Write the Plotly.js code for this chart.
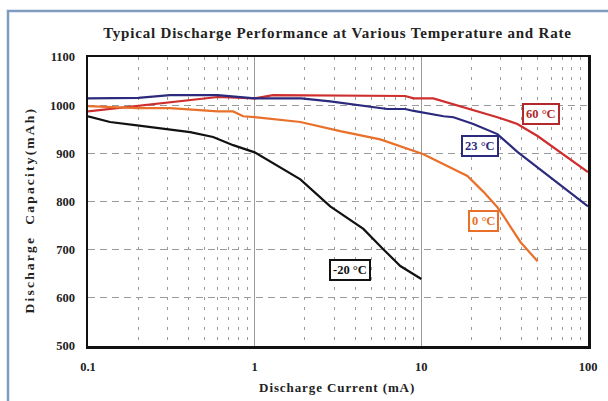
<!DOCTYPE html>
<html>
<head>
<meta charset="utf-8">
<script src="https://cdn.plot.ly/plotly-3.0.1.min.js"></script>
<style>
html,body{margin:0;padding:0;background:#fff;}
#chart{width:608px;height:401px;}
#chart .gtitle{letter-spacing:0.8px;}
#chart .annotation.ytitle text{letter-spacing:2.2px;}
#chart .annotation.xtitle text{letter-spacing:0.9px;}
</style>
</head>
<body>
<div id="chart"></div>
<script>
// Discharge current (mA) and capacity (mAh) per temperature
const current60 = [0.1, 0.31, 0.6, 1, 1.29, 8.0, 9.0, 11.8, 14.9, 17.9, 19.7, 28.6, 37.7, 49.8, 100];
const capacity60 = [987, 1006, 1017, 1014, 1021, 1019, 1014, 1014, 1004, 996, 992, 975, 961, 936, 861];

const current23 = [0.1, 0.2, 0.31, 0.6, 1, 1.9, 2.84, 6.25, 8.0, 9.0, 13.6, 15.6, 20.5, 28.6, 37.7, 100];
const capacity23 = [1014, 1015, 1021, 1021, 1014, 1014, 1008, 992, 992, 988, 977, 975, 961, 940, 903, 790];

const current0 = [0.1, 0.197, 0.31, 0.6, 0.743, 0.853, 1, 1.88, 3.26, 5.67, 10.3, 14.3, 18.9, 23.6, 28.6, 31.1, 39.3, 49.8];
const capacity0 = [998, 994, 994, 987, 987, 977, 975, 965, 946, 929, 898, 873, 853, 820, 788, 770, 716, 676];

const currentM20 = [0.1, 0.1355, 0.197, 0.31, 0.41, 0.563, 0.743, 1, 1.88, 2.84, 4.49, 5.91, 7.48, 10];
const capacityM20 = [977, 965, 958, 950, 944, 934, 917, 902, 846, 790, 743, 701, 666, 639];

const xTickVals = [0.1, 1, 10, 100];
const xTickText = ["0.1", "1", "10", "100"];
const yTickVals = [500, 600, 700, 800, 900, 1000, 1100];

const seriesLabels = ["60 °C", "23 °C", "0 °C", "-20 °C"];
const labelCurrent = [51.9, 22.5, 23.5, 3.75];
const labelCapacity = [981, 916, 759, 658];

const titleText = "Typical Discharge Performance at Various Temperature and Rate";
const xTitleText = "Discharge Current (mA)";
const yTitleText = "Discharge  Capacity(mAh)";

const colors = ["#cf2e2e", "#2b2a7c", "#e8702a", "#111111"];
const labelColors = ["#b3282b", "#2b2a7c", "#e8702a", "#111111"];

const serif = "'Liberation Serif', 'Times New Roman', serif";

const traces = [
  {x: current60, y: capacity60, color: colors[0]},
  {x: current23, y: capacity23, color: colors[1]},
  {x: current0, y: capacity0, color: colors[2]},
  {x: currentM20, y: capacityM20, color: colors[3]}
].map(s => ({
  x: s.x, y: s.y, type: 'scatter', mode: 'lines',
  line: {color: s.color, width: 2.2},
  showlegend: false, hoverinfo: 'skip'
}));

// plot area in px: x 88..588, y 57..346
const px = v => (v - 88) / 500;
const py = v => (346 - v) / 289;

const annotations = seriesLabels.map((t, i) => ({
  x: Math.log10(labelCurrent[i]), y: labelCapacity[i], xref: 'x', yref: 'y',
  text: '<b>' + t + '</b>', showarrow: false,
  font: {family: serif, size: 12.5, color: labelColors[i]},
  bgcolor: '#ffffff', bordercolor: labelColors[i], borderwidth: 2, borderpad: 2
}));
annotations.push({
  xref: 'paper', yref: 'paper', x: px(29), y: py(210), xanchor: 'center', yanchor: 'middle',
  textangle: -90, text: '<b>' + yTitleText + '</b>', showarrow: false, name: 'ytitle',
  font: {family: serif, size: 13.5, color: '#222'}
});
annotations.push({
  xref: 'paper', yref: 'paper', x: px(337), y: py(387), xanchor: 'center', yanchor: 'middle',
  text: '<b>' + xTitleText + '</b>', showarrow: false, name: 'xtitle',
  font: {family: serif, size: 13, color: '#222'}
});

const layout = {
  width: 608, height: 401,
  margin: {l: 88, r: 20, t: 57, b: 55},
  paper_bgcolor: '#ffffff', plot_bgcolor: '#ffffff',
  title: {
    text: '<b>' + titleText + '</b>',
    font: {family: serif, size: 15, color: '#222'},
    x: 0.555, xanchor: 'center', y: 1 - 33 / 401, yanchor: 'middle'
  },
  xaxis: {
    type: 'log', range: [-1, 2],
    tickvals: xTickVals, ticktext: xTickText,
    tickfont: {family: serif, size: 12.5, color: '#222', weight: 'bold'},
    ticks: '', ticklabelstandoff: 7,
    showgrid: true, gridcolor: '#9a9a9a', gridwidth: 1,
    minor: {dtick: 'D1', showgrid: true, gridcolor: '#9a9a9a', gridwidth: 1, griddash: '3px,7px', ticks: ''},
    showline: true, mirror: true, linecolor: '#111', linewidth: 2.5,
    zeroline: false
  },
  yaxis: {
    range: [500, 1100], tickvals: yTickVals,
    tickfont: {family: serif, size: 12.5, color: '#222', weight: 'bold'},
    ticks: '', ticklabelstandoff: 8,
    showgrid: true, gridcolor: '#9a9a9a', gridwidth: 1, griddash: '7px,5px',
    showline: true, mirror: true, linecolor: '#111', linewidth: 2.5,
    zeroline: false
  },
  shapes: [{
    type: 'path', xref: 'paper', yref: 'paper',
    path: 'M ' + px(8) + ' ' + py(402) + ' L ' + px(8) + ' ' + py(11) + ' L ' + px(610) + ' ' + py(11),
    line: {color: '#7f9cc0', width: 2.5}
  }],
  annotations: annotations
};

Plotly.newPlot('chart', traces, layout, {displayModeBar: false, staticPlot: true}).then(gd => {
  // tag the axis-title annotations so the CSS letter-spacing applies
  const groups = gd.querySelectorAll('.annotation');
  layout.annotations.forEach((a, i) => {
    if (a.name && groups[i]) groups[i].classList.add(a.name);
  });
});
</script>
</body>
</html>
